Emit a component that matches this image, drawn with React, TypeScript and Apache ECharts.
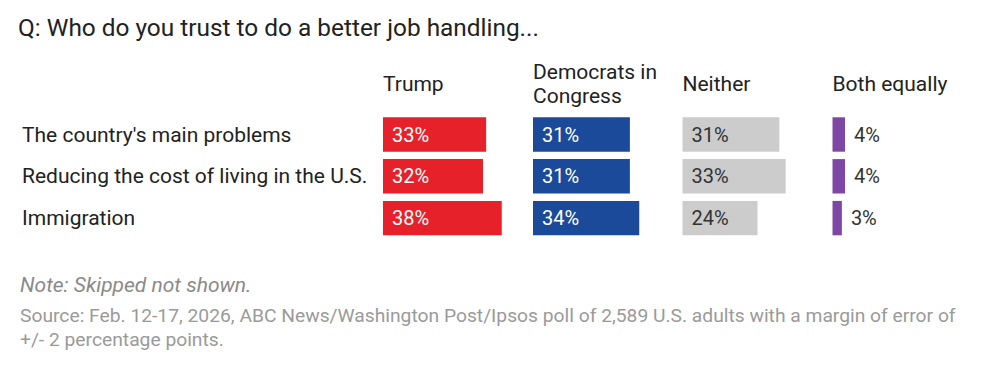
import React, { useEffect, useRef } from "react";
import * as echarts from "echarts";

const categories = [
  "The country's main problems",
  "Reducing the cost of living in the U.S.",
  "Immigration",
];
const trumpValues = [33, 32, 38];
const democratsValues = [31, 31, 34];
const neitherValues = [31, 33, 24];
const bothValues = [4, 4, 3];
const columnHeaders = ["Trump", "Democrats in\nCongress", "Neither", "Both equally"];

const titleText = "Q: Who do you trust to do a better job handling...";
const noteText = "Note: Skipped not shown.";
const sourceText =
  "Source: Feb. 12-17, 2026, ABC News/Washington Post/Ipsos poll of 2,589 U.S. adults with a margin of error of\n+/- 2 percentage points.";

const FONT = "Roboto, 'Noto Sans', Arial, sans-serif";

export default function App() {
  const ref = useRef<HTMLDivElement>(null);
  useEffect(() => {
    if (!ref.current) return;
    const chart = echarts.init(ref.current, undefined, { renderer: "svg" });
    const colLeft = [383, 533, 682.5, 832.5];
    const colWidth = 150;
    const gridTop = 113.6;
    const gridHeight = 125.4;
    const seriesData = [trumpValues, democratsValues, neitherValues, bothValues];
    const colors = ["#E62129", "#1B4A9B", "#CCCCCC", "#7E47A6"];
    const labelColors = ["#ffffff", "#ffffff", "#333333", "#333333"];

    const grids = colLeft.map((l) => ({
      left: l,
      width: colWidth,
      top: gridTop,
      height: gridHeight,
      containLabel: false,
    }));
    const xAxes = colLeft.map((_, i) => ({
      type: "value" as const,
      gridIndex: i,
      min: 0,
      max: 48,
      show: false,
    }));
    const yAxes = colLeft.map((_, i) => ({
      type: "category" as const,
      gridIndex: i,
      data: categories,
      inverse: true,
      axisLine: { show: false },
      axisTick: { show: false },
      splitLine: { show: false },
      axisLabel:
        i === 0
          ? {
              show: true,
              align: "left" as const,
              margin: 383 - 22,
              color: "#222222",
              fontSize: 21,
              fontFamily: FONT,
            }
          : { show: false },
    }));
    const series = seriesData.map((d, i) => ({
      type: "bar" as const,
      xAxisIndex: i,
      yAxisIndex: i,
      data: d,
      barWidth: 34.4,
      itemStyle: { color: colors[i] },
      label: {
        show: true,
        position: i === 3 ? ("right" as const) : ("insideLeft" as const),
        distance: 9,
        formatter: "{c}%",
        color: labelColors[i],
        fontSize: 20,
        fontFamily: FONT,
      },
      silent: true,
    }));

    const graphics: any[] = [
      {
        type: "text",
        x: 18,
        y: 27,
        style: {
          text: titleText,
          fontSize: 24.4,
          fontFamily: FONT,
          fill: "#222222",
          verticalAlign: "middle",
        },
      },
      ...columnHeaders.map((h, i) => ({
        type: "text",
        x: colLeft[i],
        y: 84,
        style: {
          text: h,
          fontSize: 21,
          lineHeight: 24,
          fontFamily: FONT,
          fill: "#222222",
          verticalAlign: "middle",
          align: "left",
        },
      })),
      {
        type: "text",
        x: 20,
        y: 284.5,
        style: {
          text: noteText,
          fontSize: 21,
          fontStyle: "italic",
          fontFamily: FONT,
          fill: "#8a8a8a",
          verticalAlign: "middle",
        },
      },
      {
        type: "text",
        x: 20,
        y: 304,
        style: {
          text: sourceText,
          fontSize: 19.25,
          lineHeight: 23.5,
          fontFamily: FONT,
          fill: "#9a9a9a",
          verticalAlign: "top",
        },
      },
    ];

    chart.setOption({
      animation: false,
      backgroundColor: "#ffffff",
      grid: grids,
      xAxis: xAxes,
      yAxis: yAxes,
      series,
      graphic: graphics,
    });
    return () => chart.dispose();
  }, []);
  return (
    <div
      ref={ref}
      style={{ position: "absolute", left: 0, top: 0, width: 989, height: 373 }}
    />
  );
}
